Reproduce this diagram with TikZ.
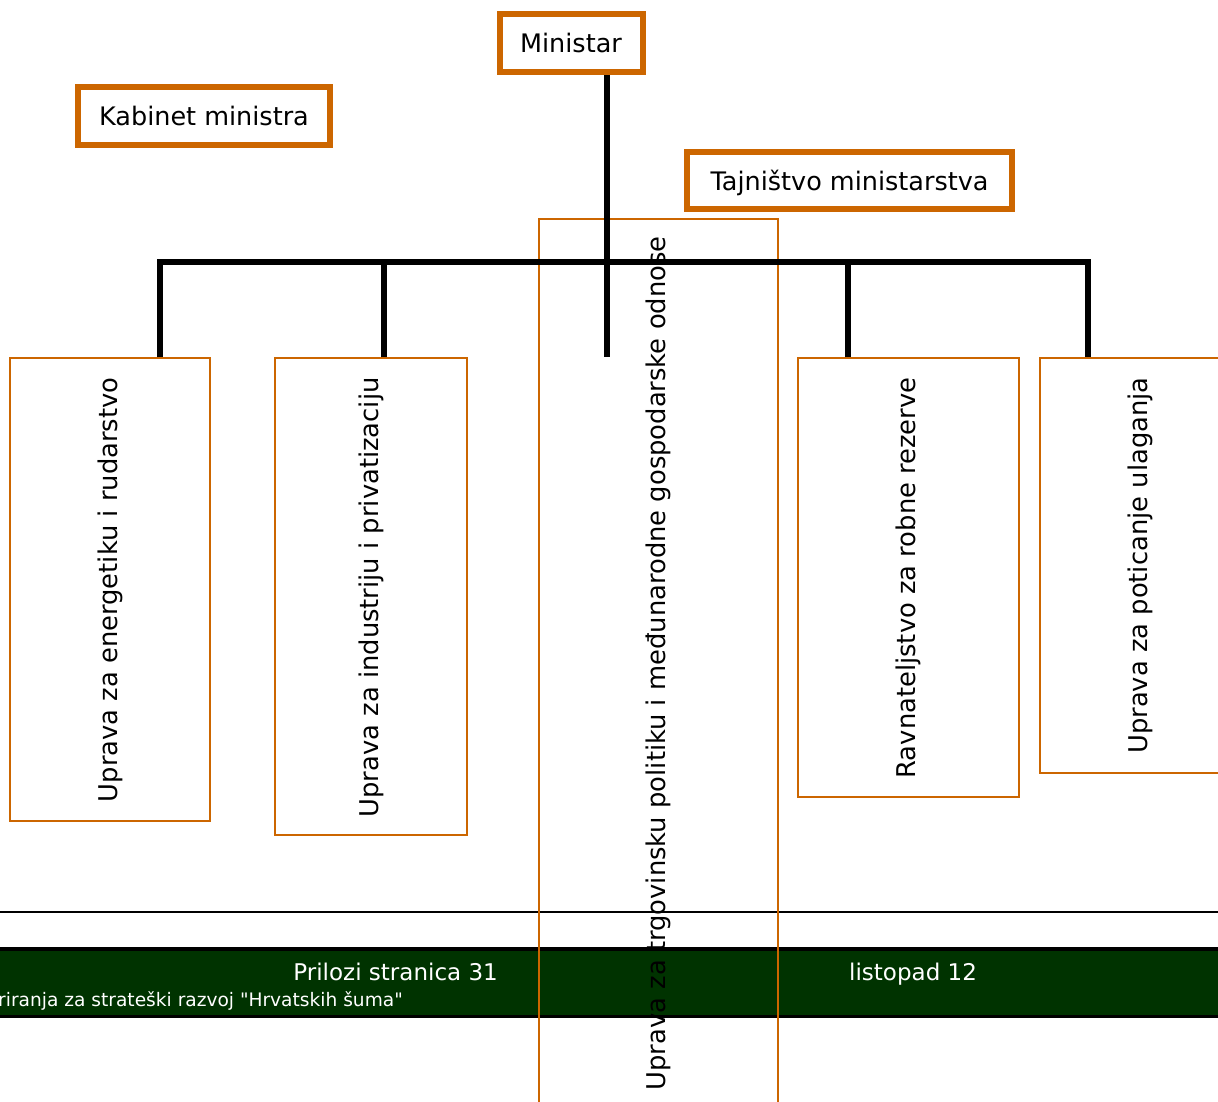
\documentclass[tikz,border=0pt]{standalone}
\usepackage{fontspec}
\setmainfont{DejaVu Sans}
\definecolor{ministry}{HTML}{CC6600}
\definecolor{footgreen}{HTML}{003300}

\begin{document}
\begin{tikzpicture}[x=1pt,y=-1pt]
 	\tikzstyle{head}=[rectangle, draw=ministry, line width=6pt, inner sep=0pt, text depth=0pt, font=\fontsize{25.5}{30}\selectfont]
 	\tikzstyle{unit}=[rectangle, draw=ministry, line width=1.5pt, inner sep=0pt]
 	\tikzstyle{vtext}=[rotate=90, anchor=east, inner sep=0pt, font=\fontsize{25.8}{30}\selectfont]
 	\tikzstyle{connect}=[line width=5.5pt, line join=miter]
 	\tikzstyle{foot}=[text=white, inner sep=0pt, font=\fontsize{23}{28}\selectfont]
 	\useasboundingbox (0,0) rectangle (1218,1101);
 	\clip (0,0) rectangle (1218,1101);
 	% footer band
 	\draw[line width=2.5pt] (0,912) -- (1218,912);
 	\fill[footgreen] (0,949) rectangle (1218,1016);
 	\draw[line width=4pt] (0,949) -- (1218,949);
 	\draw[line width=3pt] (0,1016) -- (1218,1016);
 	\node[foot, anchor=base east] (page) at (498,980) {Prilozi stranica 31};
 	\node[foot, anchor=base west] (month) at (849,980) {listopad 12};
 	\node[foot, anchor=base east, font=\fontsize{18.6}{22}\selectfont] (project) at (403,1006) {riranja za strateški razvoj \textquotedbl Hrvatskih šuma\textquotedbl};
 	% top boxes
 	\node[head, minimum width=143pt, minimum height=58pt] (minister) at (571,43) {Ministar};
 	\node[head, minimum width=252pt, minimum height=58pt] (cabinet) at (204,116) {Kabinet ministra};
 	\node[head, minimum width=325pt, minimum height=57pt] (secretariat) at (849.5,180.5) {Tajništvo ministarstva};
 	% units
 	\node[unit, minimum width=200pt, minimum height=463pt] (energy) at (110,589.5) {};
 	\node[unit, minimum width=192pt, minimum height=477pt] (industry) at (371,596.5) {};
 	\node[unit, minimum width=239pt, minimum height=901pt] (trade) at (658.5,669.5) {};
 	\node[unit, minimum width=221pt, minimum height=439pt] (reserves) at (908.5,577.5) {};
 	\node[unit, minimum width=200pt, minimum height=415pt] (invest) at (1140,565.5) {};
 	\node[vtext] (energy text) at ([yshift=-20pt]energy.north) {Uprava za energetiku i rudarstvo};
 	\node[vtext] (industry text) at ([yshift=-20pt]industry.north) {Uprava za industriju i privatizaciju};
 	\node[vtext] (trade text) at ([yshift=-18pt]trade.north) {Uprava za trgovinsku politiku i međunarodne gospodarske odnose};
 	\node[vtext] (reserves text) at ([yshift=-20pt]reserves.north) {Ravnateljstvo za robne rezerve};
 	\node[vtext] (invest text) at ([yshift=-20pt]invest.north) {Uprava za poticanje ulaganja};
 	% connectors
 	\coordinate (bus) at (607,262);
 	\coordinate (stub) at (607,357);
 	\coordinate (d1) at ([xshift=50pt]energy.north);
 	\coordinate (d2) at ([xshift=13pt]industry.north);
 	\coordinate (d4) at ([xshift=-60.5pt]reserves.north);
 	\coordinate (d5) at ([xshift=-52pt]invest.north);
 	\draw[connect] (d1) |- (bus) -| (d5);
 	\draw[connect] (d2) -- (d2 |- bus);
 	\draw[connect] (d4) -- (d4 |- bus);
 	\draw[connect] (minister.south -| stub) -- (stub);
\end{tikzpicture}
\end{document}
